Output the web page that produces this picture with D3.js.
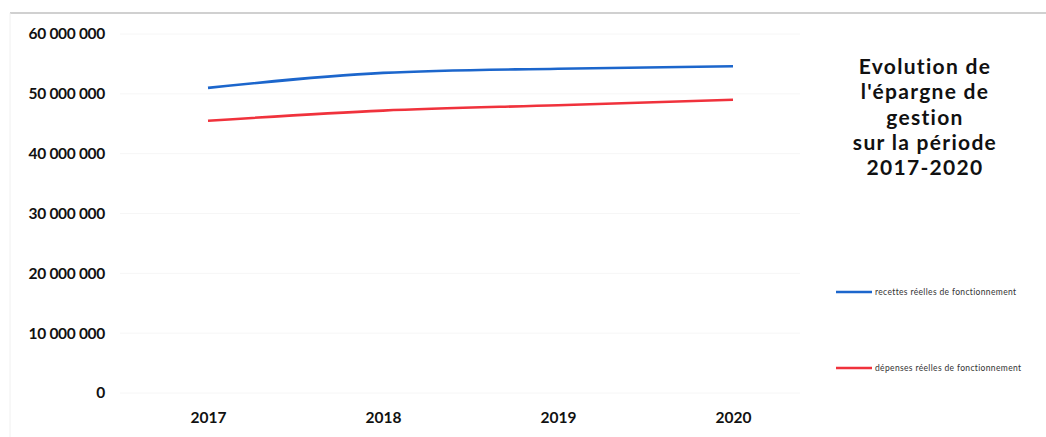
<!DOCTYPE html>
<html><head><meta charset="utf-8">
<script src="https://cdn.jsdelivr.net/npm/d3@7"></script>
<style>body{margin:0;background:#fff}svg{display:block}</style>
</head><body><svg id="c" width="1046" height="437"></svg>
<script>
const years = ["2017","2018","2019","2020"];
const recettes = [51000000, 53500000, 54200000, 54600000];
const depenses = [45500000, 47200000, 48100000, 49000000];
const yTicks = [0,10000000,20000000,30000000,40000000,50000000,60000000];
const titleLines = ["Evolution de","l'épargne de","gestion","sur la période","2017-2020"];
const seriesNames = ["recettes réelles de fonctionnement","dépenses réelles de fonctionnement"];
const colors = ["#1c66cc","#f0323c"];

const svg = d3.select("#c");
const font = "Lato, 'Open Sans', sans-serif";
// frame
svg.append("line").attr("x1",10).attr("x2",1046).attr("y1",13).attr("y2",13).attr("stroke","#d0d0d0").attr("stroke-width",2);
svg.append("line").attr("x1",10).attr("x2",10).attr("y1",13).attr("y2",437).attr("stroke","#f0f0f0").attr("stroke-width",1);

const x = d3.scalePoint().domain(years).range([208,733]);
const y = d3.scaleLinear().domain([0,60000000]).range([393,34]);
const fmt = d => d3.format(",")(d).replace(/,/g," ");

const yAxis = d3.axisLeft(y).tickValues(yTicks).tickFormat(fmt).tickSize(0).tickPadding(0);
const ga = svg.append("g").attr("transform","translate(105,0)").call(yAxis);
ga.select(".domain").remove();
ga.selectAll("text").attr("font-family",font).attr("font-weight","bold").attr("font-size",15.5).attr("letter-spacing",-0.3).attr("fill","#111");

// faint grid
svg.append("g").selectAll("line").data(yTicks).join("line")
  .attr("x1",120).attr("x2",800).attr("y1",d=>y(d)).attr("y2",d=>y(d))
  .attr("stroke","#f6f6f6").attr("stroke-width",1);

const xAxis = d3.axisBottom(x).tickSize(0).tickPadding(0);
const gx = svg.append("g").attr("transform","translate(0,412)").call(xAxis);
gx.select(".domain").remove();
gx.selectAll("text").attr("font-family",font).attr("font-weight","bold").attr("font-size",15.5).attr("fill","#111");

const line = d3.line().x((d,i)=>x(years[i])).y(d=>y(d)).curve(d3.curveMonotoneX);
[recettes,depenses].forEach((s,i)=>{
  svg.append("path").attr("d",line(s)).attr("fill","none").attr("stroke",colors[i]).attr("stroke-width",2.6);
});

// title (one text element per line)
titleLines.forEach((l,i)=>{
  svg.append("text").attr("x",925).attr("y",74+i*25.3)
    .attr("font-family",font).attr("font-weight","bold").attr("font-size",21)
    .attr("letter-spacing",1.3).attr("fill","#111").attr("text-anchor","middle").text(l);
});

// legend
const ly = [292,368];
seriesNames.forEach((n,i)=>{
  svg.append("line").attr("x1",836).attr("x2",872).attr("y1",ly[i]).attr("y2",ly[i]).attr("stroke",colors[i]).attr("stroke-width",2.6);
  svg.append("text").attr("x",875).attr("y",ly[i]+3).attr("font-family",font).attr("font-size",8.5).attr("letter-spacing",0.35).attr("fill","#333").text(n);
});
</script></body></html>
